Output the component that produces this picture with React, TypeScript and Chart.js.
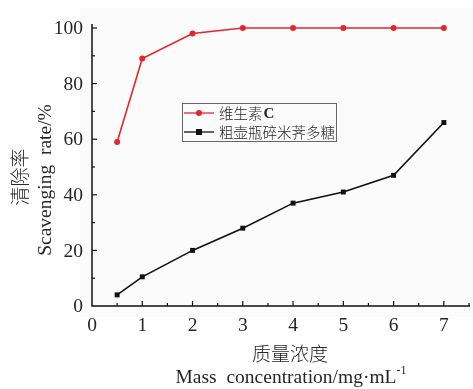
import React, { useEffect, useRef } from "react";
import { Chart, registerables } from "chart.js";

Chart.register(...registerables);

// Concentrations (mg/mL) and scavenging rates (%)
const concentrations = [0.5, 1, 2, 3, 4, 5, 6, 7];
const vitaminC = [59, 89, 98, 100, 100, 100, 100, 100];
const polysaccharide = [4, 10.5, 20, 28, 37, 41, 47, 66];

const xTicks = [0, 1, 2, 3, 4, 5, 6, 7];
const yTicks = [0, 20, 40, 60, 80, 100];
const seriesNames = ["维生素", "粗壶瓶碎米荠多糖"];

const RED = "#e4262b";
const BLACK = "#111111";
const TEXT = "#262626";
const SERIF = '"Liberation Serif", "DejaVu Serif", serif';
const CJK = '"Noto Sans CJK SC", sans-serif';

// Draws the background panel, inward tick marks, tick labels, axis titles and the legend box
const decorations = {
  id: "decorations",
  beforeDraw(chart: any) {
    const ctx = chart.ctx;
    ctx.save();
    ctx.fillStyle = "#fbfbfb";
    ctx.fillRect(80, 8, 393, 309);
    ctx.restore();
  },
  afterDraw(chart: any) {
    const ctx = chart.ctx;
    const xs = chart.scales.x;
    const ys = chart.scales.y;
    const { left, right, top, bottom } = chart.chartArea;
    ctx.save();
    ctx.strokeStyle = "#111";
    ctx.lineWidth = 1.5;
    // axis lines
    ctx.beginPath();
    ctx.moveTo(left, top - 4);
    ctx.lineTo(left, bottom);
    ctx.lineTo(right + 1, bottom);
    ctx.stroke();
    ctx.lineWidth = 1.2;
    // x ticks (major every 1, minor every 0.5)
    for (let v = 0.5; v <= 7.5; v += 0.5) {
      const px = xs.getPixelForValue(v);
      const len = Number.isInteger(v) ? 5 : 3;
      ctx.beginPath();
      ctx.moveTo(px, bottom);
      ctx.lineTo(px, bottom - len);
      ctx.stroke();
    }
    // y ticks (major every 20, minor every 10)
    for (let v = 10; v <= 100; v += 10) {
      const py = ys.getPixelForValue(v);
      const len = v % 20 === 0 ? 5 : 3;
      ctx.beginPath();
      ctx.moveTo(left, py);
      ctx.lineTo(left + len, py);
      ctx.stroke();
    }
    // tick labels
    ctx.fillStyle = TEXT;
    ctx.font = `19.5px ${SERIF}`;
    ctx.textAlign = "center";
    ctx.textBaseline = "middle";
    xTicks.forEach((t) => {
      ctx.fillText(String(t), xs.getPixelForValue(t), 326);
    });
    ctx.textAlign = "right";
    yTicks.forEach((t) => {
      ctx.fillText(String(t), left - 9, ys.getPixelForValue(t) + 1);
    });
    // x title
    ctx.textAlign = "center";
    ctx.font = `300 19px ${CJK}`;
    ctx.fillText("质量浓度", 290, 354);
    ctx.font = `19.5px ${SERIF}`;
    const main = "Mass  concentration/mg·mL";
    const w = ctx.measureText(main).width;
    const sx = 290 - (w + 8) / 2;
    ctx.textAlign = "left";
    ctx.fillText(main, sx, 378);
    ctx.font = `12px ${SERIF}`;
    ctx.fillText("-1", sx + w, 371);
    // y title
    ctx.save();
    ctx.translate(20, 177);
    ctx.rotate(-Math.PI / 2);
    ctx.textAlign = "center";
    ctx.font = `300 19px ${CJK}`;
    ctx.fillText("清除率", 0, 0);
    ctx.restore();
    ctx.save();
    ctx.translate(46, 180);
    ctx.rotate(-Math.PI / 2);
    ctx.textAlign = "center";
    ctx.font = `19.5px ${SERIF}`;
    ctx.fillText("Scavenging  rate/%", 0, 0);
    ctx.restore();
    // legend
    ctx.strokeStyle = "#666";
    ctx.lineWidth = 1;
    ctx.strokeRect(182.5, 103.5, 154, 38);
    const rows = [
      { y: 113, color: RED, marker: "circle", suffix: "C" },
      { y: 132, color: BLACK, marker: "square", suffix: "" },
    ];
    rows.forEach((r, i) => {
      ctx.strokeStyle = r.color;
      ctx.lineWidth = 1.3;
      ctx.beginPath();
      ctx.moveTo(184, r.y);
      ctx.lineTo(214, r.y);
      ctx.stroke();
      ctx.fillStyle = r.color;
      if (r.marker === "circle") {
        ctx.beginPath();
        ctx.arc(199, r.y, 3, 0, Math.PI * 2);
        ctx.fill();
      } else {
        ctx.fillRect(196, r.y - 3, 6, 6);
      }
      ctx.fillStyle = TEXT;
      ctx.font = `300 14.5px ${CJK}`;
      ctx.textAlign = "left";
      ctx.textBaseline = "middle";
      ctx.fillText(seriesNames[i], 219, r.y);
      if (r.suffix) {
        const tw = ctx.measureText(seriesNames[i]).width;
        ctx.font = `bold 15px ${SERIF}`;
        ctx.fillText(r.suffix, 219 + tw + 1, r.y + 1);
      }
    });
    ctx.restore();
  },
};

export default function App() {
  const ref = useRef<HTMLCanvasElement>(null);
  useEffect(() => {
    document.body.style.margin = "0";
    const canvas = ref.current!;
    const chart = new Chart(canvas, {
      type: "line",
      data: {
        datasets: [
          {
            label: seriesNames[0] + "C",
            data: concentrations.map((x, i) => ({ x, y: vitaminC[i] })),
            borderColor: RED,
            backgroundColor: RED,
            borderWidth: 1.6,
            pointRadius: 3,
            pointStyle: "circle",
            pointBorderWidth: 0,
            clip: false,
          },
          {
            label: seriesNames[1],
            data: concentrations.map((x, i) => ({ x, y: polysaccharide[i] })),
            borderColor: BLACK,
            backgroundColor: BLACK,
            borderWidth: 1.6,
            pointRadius: 3.5,
            pointStyle: "rect",
            pointBorderWidth: 0,
            clip: false,
          },
        ],
      },
      options: {
        responsive: false,
        animation: false,
        layout: { padding: { left: 92, right: 1, top: 28, bottom: 83 } },
        plugins: { legend: { display: false }, tooltip: { enabled: false } },
        scales: {
          x: { type: "linear", min: 0, max: 7.5, display: false },
          y: { type: "linear", min: 0, max: 100, display: false },
        },
      },
      plugins: [decorations],
    });
    return () => chart.destroy();
  }, []);
  return <canvas ref={ref} width={473} height={389} style={{ display: "block" }} />;
}
